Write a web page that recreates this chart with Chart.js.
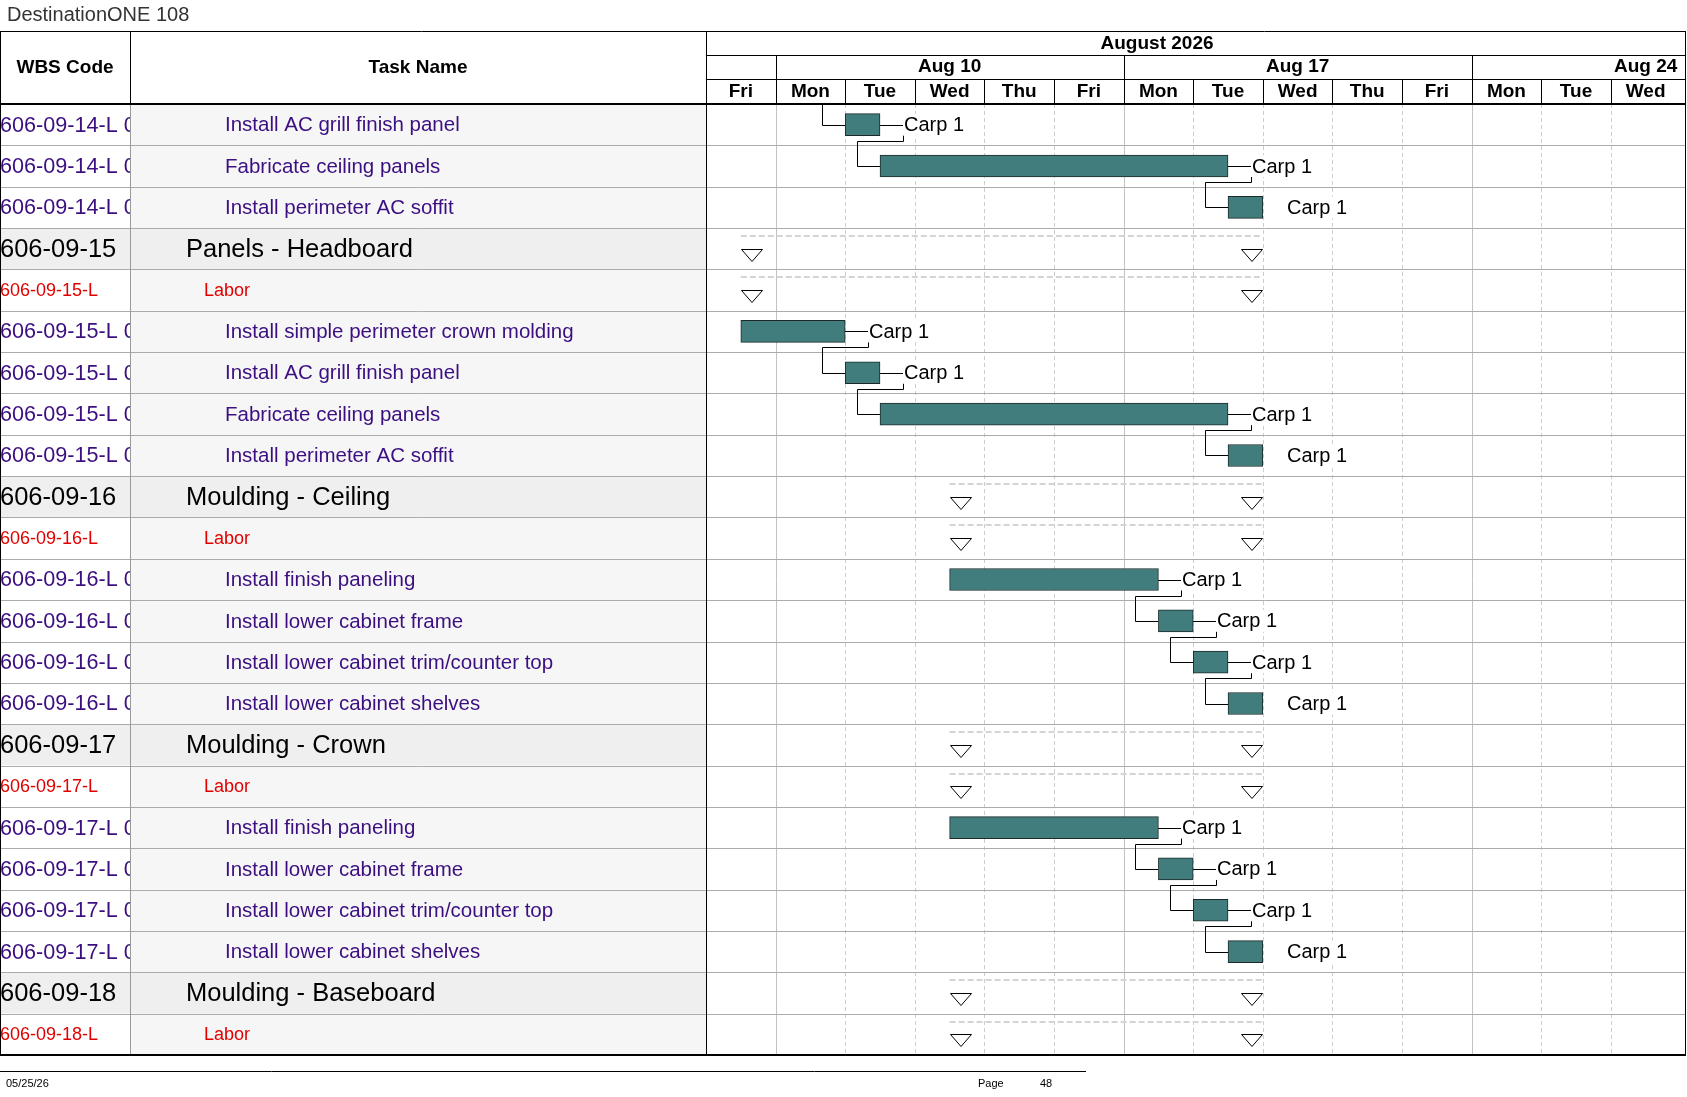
<!DOCTYPE html>
<html>
<head>
<meta charset="utf-8">
<title>DestinationONE 108</title>
<script src="https://cdn.jsdelivr.net/npm/chart.js@4.4.1/dist/chart.umd.min.js"></script>
<style>
  html, body { margin: 0; padding: 0; background: #fff; }
  #gantt { display: block; }
</style>
</head>
<body>
<canvas id="gantt" width="1687" height="1097"></canvas>
<script>
// Gantt page 48: rows 606-09-14 .. 606-09-18, week of Aug 10 2026

const wbsCodes = [
  '606-09-14-L 02', '606-09-14-L 03', '606-09-14-L 04',
  '606-09-15', '606-09-15-L',
  '606-09-15-L 01', '606-09-15-L 02', '606-09-15-L 03', '606-09-15-L 04',
  '606-09-16', '606-09-16-L',
  '606-09-16-L 01', '606-09-16-L 02', '606-09-16-L 03', '606-09-16-L 04',
  '606-09-17', '606-09-17-L',
  '606-09-17-L 01', '606-09-17-L 02', '606-09-17-L 03', '606-09-17-L 04',
  '606-09-18', '606-09-18-L'
];

const taskNames = [
  'Install AC grill finish panel', 'Fabricate ceiling panels', 'Install perimeter AC soffit',
  'Panels - Headboard', 'Labor',
  'Install simple perimeter crown molding', 'Install AC grill finish panel', 'Fabricate ceiling panels', 'Install perimeter AC soffit',
  'Moulding - Ceiling', 'Labor',
  'Install finish paneling', 'Install lower cabinet frame', 'Install lower cabinet trim/counter top', 'Install lower cabinet shelves',
  'Moulding - Crown', 'Labor',
  'Install finish paneling', 'Install lower cabinet frame', 'Install lower cabinet trim/counter top', 'Install lower cabinet shelves',
  'Moulding - Baseboard', 'Labor'
];

// outline level of each row
const rowLevels = [
  'task', 'task', 'task',
  'summary', 'labor',
  'task', 'task', 'task', 'task',
  'summary', 'labor',
  'task', 'task', 'task', 'task',
  'summary', 'labor',
  'task', 'task', 'task', 'task',
  'summary', 'labor'
];

// working days counted from the start of Fri Aug 7 (weekends hidden)
const taskSpans = [
  [2, 2.5], [2.5, 7.5], [7.5, 8],
  null, null,
  [0.5, 2], [2, 2.5], [2.5, 7.5], [7.5, 8],
  null, null,
  [3.5, 6.5], [6.5, 7], [7, 7.5], [7.5, 8],
  null, null,
  [3.5, 6.5], [6.5, 7], [7, 7.5], [7.5, 8],
  null, null
];

const summarySpans = [
  null, null, null,
  [0.5, 8], [0.5, 8],
  null, null, null, null,
  [3.5, 8], [3.5, 8],
  null, null, null, null,
  [3.5, 8], [3.5, 8],
  null, null, null, null,
  [3.5, 8], [3.5, 8]
];

const resourceNames = taskSpans.map(s => (s ? 'Carp 1' : null));

// finish-to-start links [from row, to row]; -1 = predecessor on the page above
const links = [
  [-1, 0], [0, 1], [1, 2],
  [5, 6], [6, 7], [7, 8],
  [11, 12], [12, 13], [13, 14],
  [17, 18], [18, 19], [19, 20]
];

const dayLabels = ['Fri', 'Mon', 'Tue', 'Wed', 'Thu', 'Fri', 'Mon', 'Tue', 'Wed', 'Thu', 'Fri', 'Mon', 'Tue', 'Wed'];
const weekLabels = ['Aug 10', 'Aug 17', 'Aug 24'];
const weekStarts = [1, 6, 11];
const monthLabel = 'August 2026';

const FONT = '"Liberation Sans", Arial, sans-serif';
const COL1 = 130;        // WBS | Task Name divider
const TABLE_TOP = 31;
const HEAD_ROW1 = 55;
const HEAD_ROW2 = 79;

function hline(ctx, x1, x2, yy) {
  ctx.beginPath();
  ctx.moveTo(x1, yy);
  ctx.lineTo(x2, yy);
  ctx.stroke();
}
function vline(ctx, xx, y1, y2) {
  ctx.beginPath();
  ctx.moveTo(xx, y1);
  ctx.lineTo(xx, y2);
  ctx.stroke();
}
const crisp = v => Math.round(v) + 0.5;

const ganttPage = {
  id: 'ganttPage',
  beforeDraw(chart) {
    const { ctx, chartArea: area, scales: { y } } = chart;
    const rowH = y.getPixelForValue(1) - y.getPixelForValue(0);
    ctx.save();
    ctx.fillStyle = '#fff';
    ctx.fillRect(0, 0, chart.width, chart.height);
    for (let i = 0; i < taskNames.length; i++) {
      const top = y.getPixelForValue(i) - rowH / 2;
      const isSum = rowLevels[i] === 'summary';
      ctx.fillStyle = isSum ? '#efefef' : '#ffffff';
      ctx.fillRect(0, top, COL1, rowH);
      ctx.fillStyle = isSum ? '#efefef' : '#f6f6f6';
      ctx.fillRect(COL1, top, area.left - COL1, rowH);
    }
    ctx.restore();
  },
  beforeDatasetsDraw(chart) {
    const { ctx, chartArea: area, scales: { x, y } } = chart;
    const rowH = y.getPixelForValue(1) - y.getPixelForValue(0);
    ctx.save();
    ctx.lineWidth = 1;

    // day grid
    for (let d = 1; d < dayLabels.length; d++) {
      const px = crisp(x.getPixelForValue(d));
      const week = weekStarts.includes(d);
      ctx.strokeStyle = week ? '#c2c2c2' : '#cdcdcd';
      ctx.setLineDash(week ? [] : [4, 3]);
      vline(ctx, px, area.top, area.bottom);
    }
    ctx.setLineDash([]);

    // row lines
    ctx.strokeStyle = '#ababab';
    for (let i = 1; i < taskNames.length; i++) {
      hline(ctx, 0, area.right, crisp(y.getPixelForValue(i) - rowH / 2));
    }
    ctx.strokeStyle = '#9a9a9a';
    vline(ctx, crisp(COL1), area.top, area.bottom);

    // summary rails
    ctx.strokeStyle = '#d4d4d4';
    ctx.lineWidth = 2;
    ctx.setLineDash([6, 3]);
    summarySpans.forEach((s, i) => {
      if (!s) return;
      const yy = Math.round(y.getPixelForValue(i) - rowH / 2) + 8;
      hline(ctx, x.getPixelForValue(s[0]), x.getPixelForValue(s[1]), yy);
    });
    ctx.setLineDash([]);

    // links
    ctx.strokeStyle = '#000';
    ctx.lineWidth = 1;
    links.forEach(([from, to]) => {
      const sx = Math.round(x.getPixelForValue(taskSpans[to][0]));
      const sy = crisp(y.getPixelForValue(to));
      const vx = sx - 23 + 0.5;
      ctx.beginPath();
      if (from < 0) {
        ctx.moveTo(vx, area.top);
      } else {
        const ex = Math.round(x.getPixelForValue(taskSpans[from][1]));
        const ey = crisp(y.getPixelForValue(from));
        const dropY = ey + 11 + 5;
        ctx.moveTo(ex, ey);
        ctx.lineTo(ex + 23 + 0.5, ey);
        ctx.lineTo(ex + 23 + 0.5, dropY);
        ctx.lineTo(vx, dropY);
      }
      ctx.lineTo(vx, sy);
      ctx.lineTo(sx, sy);
      ctx.stroke();
    });
    ctx.restore();
  },
  afterDatasetsDraw(chart) {
    const { ctx, chartArea: area, scales: { x, y } } = chart;
    const rowH = y.getPixelForValue(1) - y.getPixelForValue(0);
    ctx.save();
    ctx.textBaseline = 'middle';

    // resource labels
    ctx.font = '20px ' + FONT;
    resourceNames.forEach((r, i) => {
      if (!r) return;
      const tx = Math.round(x.getPixelForValue(taskSpans[i][1])) + 23;
      const cy = y.getPixelForValue(i);
      const w = ctx.measureText(r).width;
      ctx.fillStyle = '#fff';
      ctx.fillRect(tx, cy - 11, w + 2, 22);
      ctx.fillStyle = '#000';
      ctx.textAlign = 'left';
      ctx.fillText(r, tx + 1, cy + 1);
    });

    // summary taps
    ctx.lineWidth = 1;
    ctx.strokeStyle = '#000';
    ctx.fillStyle = '#fff';
    summarySpans.forEach((s, i) => {
      if (!s) return;
      const top = Math.round(y.getPixelForValue(i)) + 0.5;
      const x1 = Math.round(x.getPixelForValue(s[0])) + 0.5;
      const x2 = Math.round(x.getPixelForValue(s[1])) - 21.5;
      [x1, x2].forEach(l => {
        ctx.beginPath();
        ctx.moveTo(l, top);
        ctx.lineTo(l + 21, top);
        ctx.lineTo(l + 10.5, top + 12);
        ctx.closePath();
        ctx.fill();
        ctx.stroke();
      });
    });

    // left table text
    for (let i = 0; i < taskNames.length; i++) {
      const lvl = rowLevels[i];
      const cy = y.getPixelForValue(i) + 1;
      const top = y.getPixelForValue(i) - rowH / 2;
      let font, codeFont, color, indent;
      if (lvl === 'summary') { font = codeFont = '25.5px ' + FONT; color = '#000'; indent = 186; }
      else if (lvl === 'labor') { font = codeFont = '18px ' + FONT; color = '#e00000'; indent = 204; }
      else { font = '20.5px ' + FONT; codeFont = '21.6px ' + FONT; color = '#3b0f80'; indent = 225; }
      ctx.fillStyle = color;
      ctx.textAlign = 'left';
      ctx.save();
      ctx.beginPath();
      ctx.rect(0, top, COL1, rowH);
      ctx.clip();
      ctx.font = codeFont;
      ctx.fillText(wbsCodes[i], 0, cy);
      ctx.restore();
      ctx.font = font;
      ctx.fillText(taskNames[i], indent, cy);
    }

    // header
    ctx.fillStyle = '#fff';
    ctx.fillRect(0, TABLE_TOP, chart.width, area.top - TABLE_TOP);
    ctx.fillStyle = '#000';
    ctx.textAlign = 'center';
    ctx.font = 'bold 19px ' + FONT;
    ctx.fillText('WBS Code', COL1 / 2, 68);
    ctx.fillText('Task Name', (COL1 + area.left) / 2, 68);
    ctx.fillText(monthLabel, x.getPixelForValue(6.48), 44);
    weekLabels.forEach((w, k) => ctx.fillText(w, x.getPixelForValue(weekStarts[k] + 2.5), 67));
    dayLabels.forEach((d, k) => {
      const mid = (x.getPixelForValue(k) + Math.min(x.getPixelForValue(k + 1), area.right)) / 2;
      ctx.fillText(d, mid, 92);
    });

    ctx.strokeStyle = '#000';
    ctx.lineWidth = 1;
    hline(ctx, area.left, area.right, crisp(HEAD_ROW1));
    hline(ctx, area.left, area.right, crisp(HEAD_ROW2));
    weekStarts.forEach(ws => vline(ctx, crisp(x.getPixelForValue(ws)), HEAD_ROW1, HEAD_ROW2));
    for (let d = 1; d < dayLabels.length; d++) {
      vline(ctx, crisp(x.getPixelForValue(d)), HEAD_ROW2, area.top);
    }
    vline(ctx, crisp(COL1), TABLE_TOP, area.top);

    // frame
    hline(ctx, 0, area.right, crisp(TABLE_TOP));
    vline(ctx, 0.5, TABLE_TOP, area.bottom);
    vline(ctx, crisp(area.left), TABLE_TOP, area.bottom);
    vline(ctx, area.right - 0.5, TABLE_TOP, area.bottom);
    ctx.lineWidth = 2;
    hline(ctx, 0, area.right, area.top);
    hline(ctx, 0, area.right, area.bottom);

    // page title and footer
    ctx.textAlign = 'left';
    ctx.fillStyle = '#333';
    ctx.font = '20px ' + FONT;
    ctx.fillText('DestinationONE 108', 7, 15);
    ctx.lineWidth = 1;
    ctx.strokeStyle = '#000';
    hline(ctx, 0, 1086, 1071.5);
    ctx.fillStyle = '#000';
    ctx.font = '11px ' + FONT;
    ctx.fillText('05/25/26', 6, 1084);
    ctx.fillText('Page', 978, 1084);
    ctx.fillText('48', 1040, 1084);
    ctx.restore();
  }
};

new Chart(document.getElementById('gantt'), {
  type: 'bar',
  data: {
    labels: taskNames,
    datasets: [
      {
        label: 'Tasks',
        data: taskSpans,
        backgroundColor: '#417d7c',
        borderColor: '#1c2a2a',
        borderWidth: 1,
        borderSkipped: false,
        barThickness: 22,
        grouped: false
      },
      {
        label: 'Summary',
        data: summarySpans,
        backgroundColor: 'rgba(0,0,0,0)',
        borderWidth: 0,
        barThickness: 22,
        grouped: false
      }
    ]
  },
  options: {
    indexAxis: 'y',
    responsive: false,
    animation: false,
    layout: { padding: { left: 706, top: 104, right: 1, bottom: 42 } },
    plugins: {
      legend: { display: false },
      tooltip: { enabled: false }
    },
    scales: {
      // about 69.6 px per working day; the last (Wed) column runs past the edge
      x: { type: 'linear', min: 0, max: 14.08, display: false },
      y: { type: 'category', display: false, offset: true }
    }
  },
  plugins: [ganttPage]
});
</script>
</body>
</html>
